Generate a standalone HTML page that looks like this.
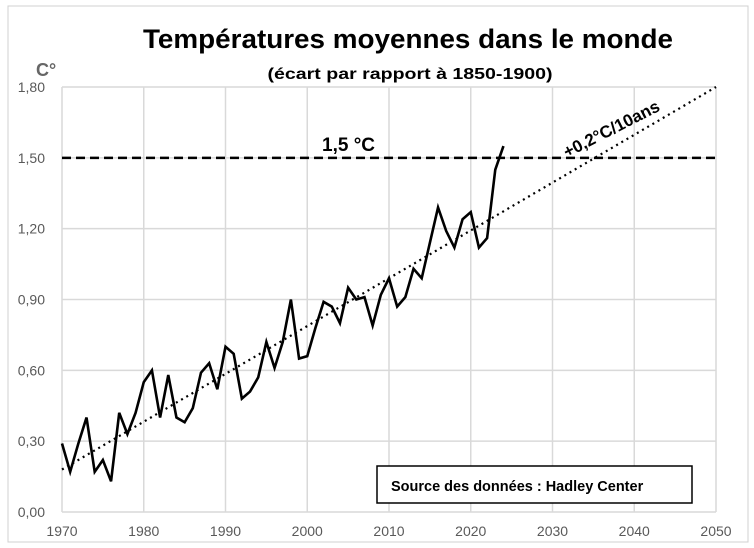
<!DOCTYPE html>
<html><head><meta charset="utf-8"><style>
body{margin:0;background:#fff}
svg{display:block;font-family:"Liberation Sans",sans-serif}
</style></head><body>
<svg width="754" height="548">
<rect x="8" y="6" width="740" height="536" fill="#fff" stroke="#d0d0d0"/>
<text x="408" y="48" text-anchor="middle" font-size="27" font-weight="bold" textLength="530" lengthAdjust="spacingAndGlyphs">Températures moyennes dans le monde</text>
<text x="410" y="79" text-anchor="middle" font-size="16" font-weight="bold" textLength="285" lengthAdjust="spacingAndGlyphs">(écart par rapport à 1850-1900)</text>
<text x="36" y="76" font-size="18" font-weight="bold" fill="#666">C°</text>
<g id="grid"></g><g id="axes"></g><g id="marks"></g>
<text x="322" y="151" font-size="19" font-weight="bold">1,5 °C</text>
<text x="0" y="0" font-size="17" font-weight="bold" transform="translate(567,158) rotate(-27)">+0,2°C/10ans</text>
<rect x="377" y="466" width="315" height="37" fill="#fff" stroke="#000" stroke-width="1.5"/>
<text x="391" y="491" font-size="14.5" font-weight="bold">Source des données : Hadley Center</text>
</svg>
<script>
const years=[1970,1971,1972,1973,1974,1975,1976,1977,1978,1979,1980,1981,1982,1983,1984,1985,1986,1987,1988,1989,1990,1991,1992,1993,1994,1995,1996,1997,1998,1999,2000,2001,2002,2003,2004,2005,2006,2007,2008,2009,2010,2011,2012,2013,2014,2015,2016,2017,2018,2019,2020,2021,2022,2023,2024];
const anomalies=[0.29,0.17,0.29,0.40,0.17,0.22,0.13,0.42,0.33,0.42,0.55,0.60,0.40,0.58,0.40,0.38,0.44,0.59,0.63,0.52,0.70,0.67,0.48,0.51,0.57,0.72,0.61,0.72,0.90,0.65,0.66,0.78,0.89,0.87,0.80,0.95,0.90,0.91,0.79,0.92,0.99,0.87,0.91,1.03,0.99,1.14,1.29,1.19,1.12,1.24,1.27,1.12,1.16,1.45,1.55];
const xTicks=[1970,1980,1990,2000,2010,2020,2030,2040,2050];
const yTicks=[0,0.3,0.6,0.9,1.2,1.5,1.8];
const yTickLabels=["0,00","0,30","0,60","0,90","1,20","1,50","1,80"];
const threshold=1.5;
const trendStart=[1970,0.18];
const trendEnd=[2050,1.80];
const X0=62,X1=716,Y0=512,Y1=87;
const x=v=>X0+(v-1970)/80*(X1-X0);
const y=v=>Y0-v/1.8*(Y0-Y1);
const NS="http://www.w3.org/2000/svg";
function mk(t,a,p){const e=document.createElementNS(NS,t);for(const k in a)e.setAttribute(k,a[k]);p.appendChild(e);return e;}
const g=document.getElementById('grid'),ax=document.getElementById('axes'),m=document.getElementById('marks');
xTicks.forEach(t=>{
 const l=mk('line',{x1:x(t),x2:x(t),y1:Y1,y2:Y0,stroke:'#d9d9d9','stroke-width':1.5},g);
 
 
 const tx=mk('text',{x:x(t),y:Y0+24,'text-anchor':'middle','font-size':14,fill:'#595959'},ax);
 tx.textContent=t;
 
 
});
yTicks.forEach((t,i)=>{
 const l=mk('line',{x1:X0,x2:X1,y1:y(t),y2:y(t),stroke:'#d9d9d9','stroke-width':1.5},g);
 
 
 const tx=mk('text',{x:45,y:y(t)+5,'text-anchor':'end','font-size':14,fill:'#595959'},ax);
 tx.textContent=yTickLabels[i];
 
 
});
const th=mk('line',{x1:X0,x2:X1,y1:y(threshold),y2:y(threshold),stroke:'#000','stroke-width':2.5,'stroke-dasharray':'9,5'},m);


const tr=mk('line',{x1:x(trendStart[0]),y1:y(trendStart[1]),x2:x(trendEnd[0]),y2:y(trendEnd[1]),stroke:'#000','stroke-width':2.2,'stroke-dasharray':'2,4'},m);


const pl=mk('polyline',{points:years.map((yr,i)=>x(yr)+','+y(anomalies[i])).join(' '),fill:'none',stroke:'#000','stroke-width':2.6,'stroke-linejoin':'miter'},m);


</script>
</body></html>
